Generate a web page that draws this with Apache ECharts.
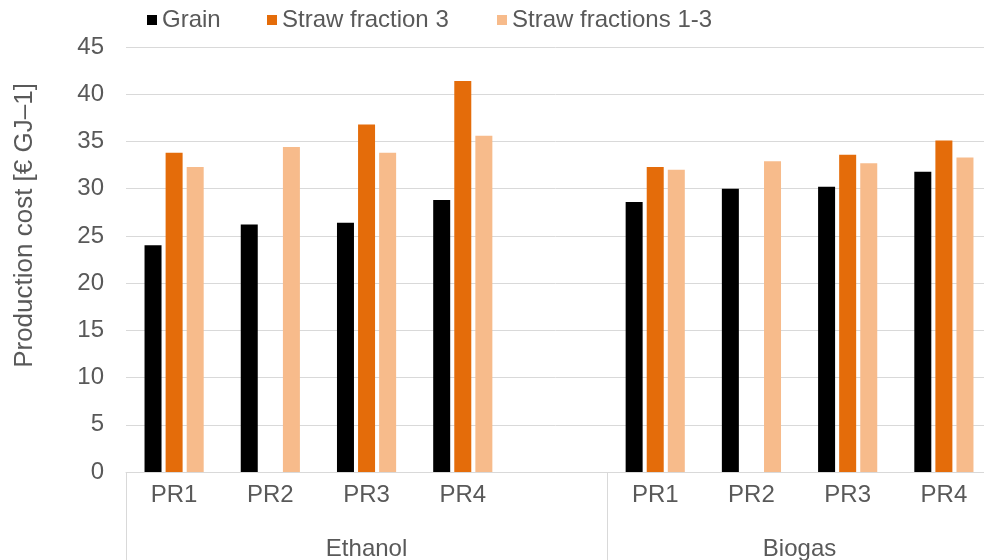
<!DOCTYPE html>
<html>
<head>
<meta charset="utf-8">
<script src="https://cdn.jsdelivr.net/npm/echarts@6/dist/echarts.min.js"></script>
<style>html,body{margin:0;padding:0;background:#fff}#c{width:984px;height:560px}</style>
</head>
<body>
<div id="c"></div>
<script>
const categories = ['PR1', 'PR2', 'PR3', 'PR4', '', 'PR1', 'PR2', 'PR3', 'PR4'];
const groups = ['Ethanol', 'Biogas'];
const groupCenters = [2.5, 7];
const groupBounds = [0, 5, 9];
const grain = [24.0, 26.2, 26.4, 28.8, null, 28.6, 30.0, 30.2, 31.8];
const straw3 = [33.8, null, 36.8, 41.4, null, 32.3, null, 33.6, 35.1];
const straw13 = [32.3, 34.4, 33.8, 35.6, null, 32.0, 32.9, 32.7, 33.3];
const seriesNames = ['Grain', 'Straw fraction 3', 'Straw fractions 1-3'];
const colors = ['#000000', '#E46C0A', '#F7BB8B'];
const yTicks = {min: 0, max: 45, interval: 5};

const FONT = 'Liberation Sans, Arial, sans-serif';
const TXT = '#595959';
const GRID = '#D9D9D9';
const FS = 24;

const chart = echarts.init(document.getElementById('c'), null, {renderer: 'canvas'});
const legendLefts = [147, 267, 497];
const option = {
  animation: false,
  backgroundColor: '#ffffff',
  textStyle: {fontFamily: FONT},
  legend: seriesNames.map((n, i) => ({
    data: [n], left: legendLefts[i], top: 8, padding: 0,
    icon: 'rect', itemWidth: 10, itemHeight: 10, itemGap: 5,
    textStyle: {fontSize: FS, color: TXT, fontFamily: FONT}
  })),
  grid: {left: 126, right: -8, top: 47, bottom: 88, containLabel: false, outerBoundsMode: 'none'},
  xAxis: [
    {
      type: 'category', data: categories,
      axisLine: {lineStyle: {color: GRID, width: 1}},
      axisTick: {show: false},
      axisLabel: {fontSize: FS, color: TXT, margin: 11, fontFamily: FONT, interval: 0}
    },
    {
      type: 'value', min: 0, max: 9, position: 'bottom', offset: 0,
      axisLine: {show: false},
      splitLine: {show: false},
      axisTick: {show: true, customValues: groupBounds, length: 88, lineStyle: {color: GRID, width: 1}},
      axisLabel: {
        customValues: groupCenters, margin: 65, fontSize: FS, color: TXT, fontFamily: FONT,
        formatter: v => groups[groupCenters.indexOf(v)] || ''
      }
    }
  ],
  yAxis: {
    type: 'value', min: yTicks.min, max: yTicks.max, interval: yTicks.interval,
    name: 'Production cost [€ GJ–1]', nameLocation: 'middle', nameGap: 88,
    nameTextStyle: {fontSize: 26, color: TXT, fontFamily: FONT, padding: [0, 0, 0, 68]},
    axisLine: {show: false}, axisTick: {show: false},
    splitLine: {lineStyle: {color: GRID, width: 1}},
    axisLabel: {fontSize: FS, color: TXT, margin: 22, fontFamily: FONT}
  },
  series: [grain, straw3, straw13].map((d, i) => ({
    name: seriesNames[i], type: 'bar', data: d,
    barWidth: 17, barGap: '24%',
    itemStyle: {color: colors[i]}
  }))
};
chart.setOption(option);
</script>
</body>
</html>
